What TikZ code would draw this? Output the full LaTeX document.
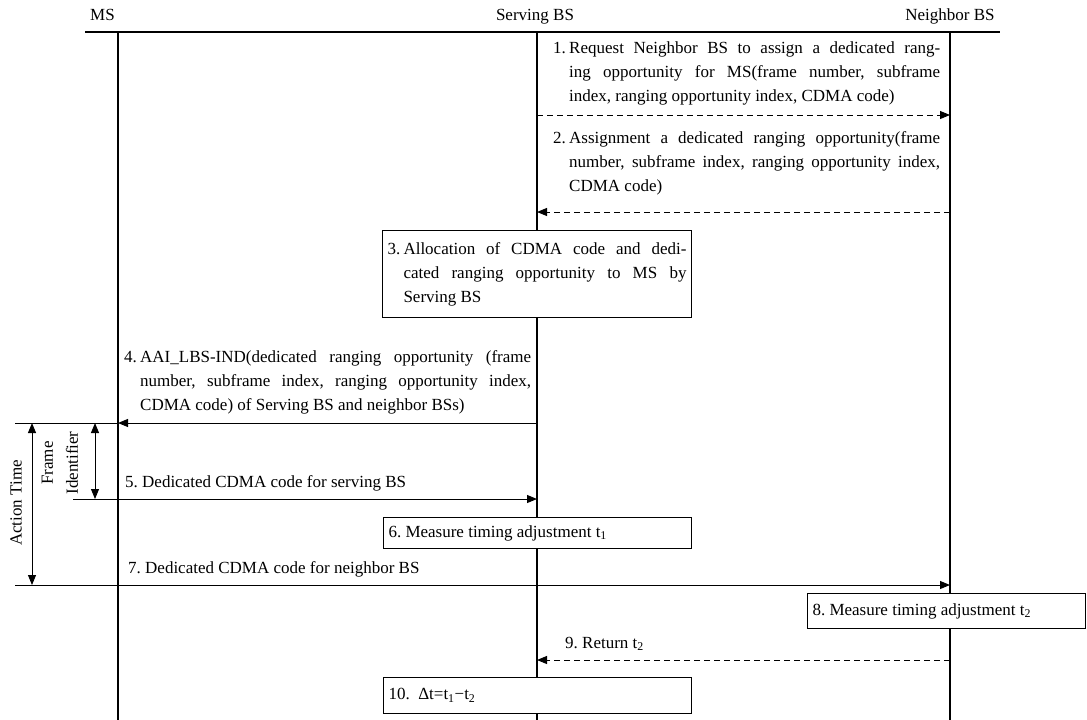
\documentclass[tikz,border=0pt]{standalone}
\usepackage{fontspec}
\setmainfont{Liberation Serif}
\usetikzlibrary{arrows.meta}
\frenchspacing
\newcommand\numpar[3]{\makebox[16pt][l]{#1}\parbox[t]{#2}{#3}}
\begin{document}
\begin{tikzpicture}[x=1pt,y=-1pt,
  every node/.style={font=\fontsize{17}{24}\selectfont},
  life/.style={line width=1.2pt},
  hdr/.style={line width=1.5pt},
  tick/.style={line width=1pt},
  msgline/.style={line width=1pt,-{Triangle[length=10pt,width=8pt]}},
  dashmsg/.style={msgline,dash pattern=on 6pt off 4pt},
  dimarrow/.style={line width=1pt,{Triangle[length=10pt,width=8pt]}-{Triangle[length=10pt,width=8pt]}},
  msgtext/.style={anchor=base west,inner sep=0pt},
  procbox/.style={draw,line width=1pt,fill=white,anchor=north west,inner xsep=5pt,inner ysep=0pt,align=justify}
]
\useasboundingbox (0,0) rectangle (1087,720);

% lifelines
\coordinate (msT) at (118,32);  \coordinate (msB) at (118,720);
\coordinate (svT) at (537,32);  \coordinate (svB) at (537,720);
\coordinate (nbT) at (950,32);  \coordinate (nbB) at (950,720);
\coordinate (hdL) at (85,32);   \coordinate (hdR) at (1000,32);
\draw[hdr] (hdL) -- (hdR);
\draw[life] (msT) -- (msB);
\draw[life] (svT) -- (svB);
\draw[life] (nbT) -- (nbB);

% header labels
\node[anchor=base east,inner sep=0pt] (lMS) at (115,20) {MS};
\node[anchor=base,inner sep=0pt] (lSV) at (535,20) {Serving BS};
\node[anchor=base,inner sep=0pt] (lNB) at (950,20) {Neighbor BS};

% message 1
\node[msgtext] (t1) at (553,53) {\numpar{1.}{371pt}{Request Neighbor BS to assign a dedicated rang-\linebreak ing opportunity for MS(frame number, subframe\linebreak index, ranging opportunity index, CDMA code)}};
\coordinate (a1s) at (537,115); \coordinate (a1e) at (950,115);
\draw[dashmsg] (a1s) -- (a1e);

% message 2
\node[msgtext] (t2) at (553,143) {\numpar{2.}{371pt}{Assignment a dedicated ranging opportunity(frame\linebreak number, subframe index, ranging opportunity index,\linebreak CDMA code)}};
\coordinate (a2s) at (950,212); \coordinate (a2e) at (537,212);
\draw[dashmsg] (a2s) -- (a2e);

% box 3
\node[procbox,text width=299pt,minimum height=87pt] (b3) at (382,230) {\numpar{3.}{283pt}{Allocation of CDMA code and dedi-\linebreak cated ranging opportunity to MS by\linebreak Serving BS}};

% message 4
\node[msgtext] (t4) at (124,362) {\numpar{4.}{391pt}{AAI\_LBS-IND(dedicated ranging opportunity (frame\linebreak number, subframe index, ranging opportunity index,\linebreak CDMA code) of Serving BS and neighbor BSs)}};
\coordinate (a4s) at (537,423); \coordinate (a4e) at (118,423);
\draw[msgline] (a4s) -- (a4e);

% action time / frame identifier
\coordinate (k1) at (15,423);
\coordinate (k2) at (73,499);  \coordinate (a5s) at (118,499); \coordinate (a5e) at (537,499);
\coordinate (k3) at (15,585);  \coordinate (a7s) at (118,585); \coordinate (a7e) at (950,585);
\draw[tick] (k1) -- (a4e);
\draw[tick] (k2) -- (a5s);
\draw[tick] (k3) -- (a7s);
\coordinate (atT) at (32,423); \coordinate (atB) at (32,585);
\coordinate (fiT) at (95,423); \coordinate (fiB) at (95,499);
\draw[dimarrow] (atT) -- (atB);
\draw[dimarrow] (fiT) -- (fiB);
\node[rotate=90,inner sep=0pt] (lAT) at (16,503) {Action Time};
\node[rotate=90,inner sep=0pt,align=center,font=\fontsize{17}{25}\selectfont] (lFI) at (60,463) {Frame\\Identifier};

% message 5
\node[msgtext] (t5) at (125,487) {5. Dedicated CDMA code for serving BS};
\draw[msgline] (a5s) -- (a5e);

% box 6
\node[procbox,text width=298pt,minimum height=31pt] (b6) at (383,517) {6. Measure timing adjustment t\textsubscript{1}};

% message 7
\node[msgtext] (t7) at (128,573) {7. Dedicated CDMA code for neighbor BS};
\draw[msgline] (a7s) -- (a7e);

% box 8
\node[procbox,text width=268pt,minimum height=35pt] (b8) at (807,593) {8. Measure timing adjustment t\textsubscript{2}};

% message 9
\node[msgtext] (t9) at (565,648) {9. Return t\textsubscript{2}};
\coordinate (a9s) at (950,660); \coordinate (a9e) at (537,660);
\draw[dashmsg] (a9s) -- (a9e);

% box 10
\node[procbox,text width=298pt,minimum height=36pt] (b10) at (383,677) {10.\ \ Δt=t\textsubscript{1}−t\textsubscript{2}};
\end{tikzpicture}
\end{document}
